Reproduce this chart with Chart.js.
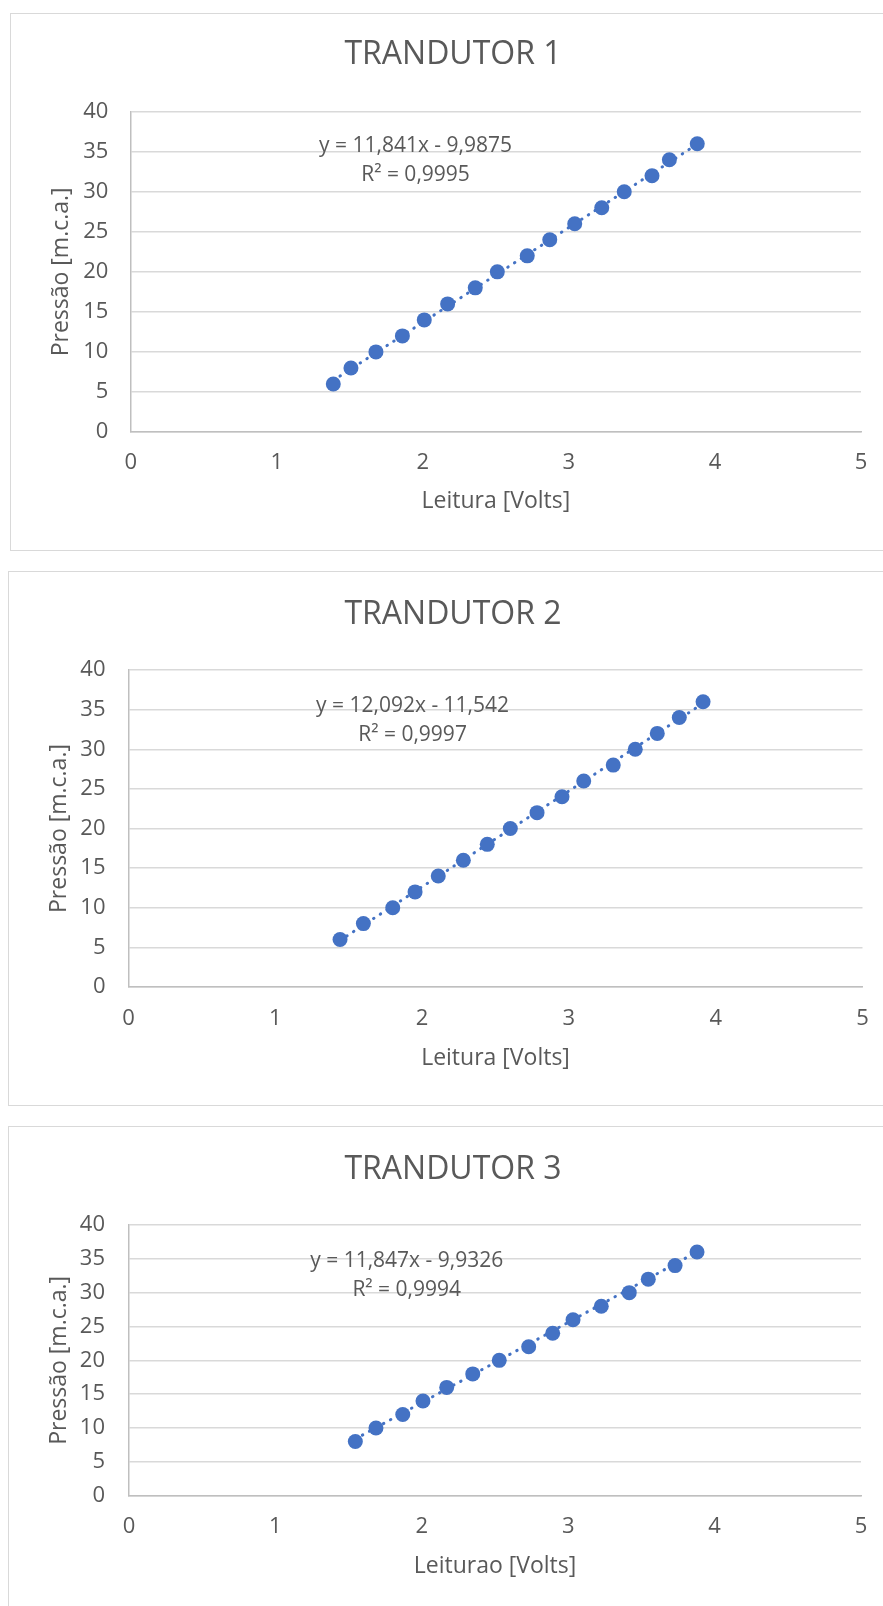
<!DOCTYPE html>
<html>
<head>
<meta charset="utf-8">
<script src="https://cdn.jsdelivr.net/npm/chart.js@4.4.1/dist/chart.umd.min.js"></script>
<style>
    html, body {
        margin: 0;
        padding: 0;
        background: #ffffff;
        width: 883px;
        height: 1606px;
        overflow: hidden;
        position: relative;
    }
    .chart-box {
        position: absolute;
        box-sizing: border-box;
        width: 900px;
        border: 1px solid #d9d9d9;
        background: #ffffff;
    }
    .chart-box canvas {
        display: block;
    }
</style>
</head>
<body>
<div class="chart-box" id="box1"><canvas id="chart1"></canvas></div>
<div class="chart-box" id="box2"><canvas id="chart2"></canvas></div>
<div class="chart-box" id="box3"><canvas id="chart3"></canvas></div>

<script>
// --- data ---
const titles = ['TRANDUTOR 1', 'TRANDUTOR 2', 'TRANDUTOR 3'];
const xTitles = ['Leitura [Volts]', 'Leitura [Volts]', 'Leiturao [Volts]'];
const yTitle = 'Pressão [m.c.a.]';

const volts1 = [1.387, 1.508, 1.679, 1.860, 2.010, 2.170, 2.359, 2.510, 2.715, 2.869, 3.040, 3.225, 3.379, 3.569, 3.688, 3.879];
const press1 = [6, 8, 10, 12, 14, 16, 18, 20, 22, 24, 26, 28, 30, 32, 34, 36];

const volts2 = [1.441, 1.600, 1.800, 1.952, 2.110, 2.281, 2.444, 2.601, 2.783, 2.953, 3.101, 3.302, 3.452, 3.602, 3.752, 3.914];
const press2 = [6, 8, 10, 12, 14, 16, 18, 20, 22, 24, 26, 28, 30, 32, 34, 36];

const volts3 = [1.546, 1.687, 1.870, 2.008, 2.170, 2.348, 2.529, 2.730, 2.894, 3.033, 3.226, 3.417, 3.547, 3.730, 3.880];
const press3 = [8, 10, 12, 14, 16, 18, 20, 22, 24, 26, 28, 30, 32, 34, 36];

// trendline coefficients as printed on the chart
const slopes = [11.841, 12.092, 11.847];
const intercepts = [-9.9875, -11.542, -9.9326];
const rSquared = [0.9995, 0.9997, 0.9994];

const xTicks = [0, 1, 2, 3, 4, 5];
const yTicks = [0, 5, 10, 15, 20, 25, 30, 35, 40];

// --- page geometry (page pixels) ---
const layouts = [
    {box: {left: 10, top: 13, height: 538}, plot: {top: 111.7, bottom: 432, left: 130.7, right: 861},
        titleX: 453, titleY: 55, xTitleY: 501.7, yTitleX: 61, yLabelRight: 108.3, xLabelY: 463, eq: {x: 1.95, y: 35.7}},
    {box: {left: 8, top: 571, height: 535}, plot: {top: 670, bottom: 987, left: 128.5, right: 862.5},
        titleX: 453, titleY: 615, xTitleY: 1058, yTitleX: 59, yLabelRight: 105.5, xLabelY: 1018.3, eq: {x: 1.935, y: 35.5}},
    {box: {left: 8, top: 1126, height: 500}, plot: {top: 1225, bottom: 1495.7, left: 129, right: 861},
        titleX: 453, titleY: 1169.5, xTitleY: 1566, yTitleX: 59, yLabelRight: 105, xLabelY: 1527, eq: {x: 1.897, y: 34.72}}
];

const TEXT = '#595959';
const BLUE = '#4472C4';
const FONT = "'Open Sans', 'Noto Sans', sans-serif";
const CANVAS_W = 883;
const TITLE_SIZE = 32, AXIS_TITLE_SIZE = 23, TICK_SIZE = 22, EQ_SIZE = 21, LH = 1.2;

function fmt(n) {
    return String(Math.abs(n)).replace('.', ',');
}

// draws "y = ax + b" and "R² = ..." like the Excel trendline label
const equationLabel = {
    id: 'equationLabel',
    afterDatasetsDraw(chart, args, opts) {
        const {ctx, scales} = chart;
        const cx = scales.x.getPixelForValue(opts.x);
        const cy = scales.y.getPixelForValue(opts.y);
        ctx.save();
        ctx.font = EQ_SIZE + 'px ' + FONT;
        ctx.fillStyle = TEXT;
        ctx.textAlign = 'center';
        ctx.textBaseline = 'middle';
        opts.lines.forEach((line, i) => ctx.fillText(line, cx, cy + i * opts.gap));
        ctx.restore();
    }
};

function buildChart(index, volts, press) {
    const lay = layouts[index];
    const box = document.querySelector('#box' + (index + 1));
    box.style.left = lay.box.left + 'px';
    box.style.top = lay.box.top + 'px';
    box.style.height = lay.box.height + 'px';

    const ox = lay.box.left + 1, oy = lay.box.top + 1;
    const canvasH = lay.box.height - 2;
    const canvas = document.querySelector('#chart' + (index + 1));
    canvas.width = CANVAS_W;
    canvas.height = canvasH;
    canvas.style.width = CANVAS_W + 'px';
    canvas.style.height = canvasH + 'px';

    const plotTop = lay.plot.top - oy;
    const plotBottom = lay.plot.bottom - oy;
    const plotLeft = lay.plot.left - ox;
    const plotRight = lay.plot.right - ox;

    // the title box spans padding.left .. chartArea.right, so pick padding.left to center it
    const padRight = CANVAS_W - plotRight;
    const padLeft = 2 * (lay.titleX - ox) - plotRight;

    const titleLH = TITLE_SIZE * LH;
    const titlePadTop = (lay.titleY - oy) - titleLH / 2;
    const titlePadBottom = plotTop - titlePadTop - titleLH;
    const axisLH = AXIS_TITLE_SIZE * LH;
    const xScaleHeight = canvasH - plotBottom;

    const slope = slopes[index], intercept = intercepts[index];
    const xMin = Math.min(...volts), xMax = Math.max(...volts);
    const trend = [
        {x: xMin, y: slope * xMin + intercept},
        {x: xMax, y: slope * xMax + intercept}
    ];
    const points = volts.map((v, i) => ({x: v, y: press[i]}));

    const eqLines = [
        'y = ' + fmt(slope) + 'x ' + (intercept < 0 ? '-' : '+') + ' ' + fmt(intercept),
        'R² = ' + fmt(rSquared[index])
    ];

    return new Chart(canvas, {
        type: 'scatter',
        data: {
            datasets: [
                {
                    label: 'Pontos',
                    data: points,
                    backgroundColor: BLUE,
                    borderWidth: 0,
                    pointRadius: 7.5,
                    order: 1
                },
                {
                    label: 'Tendência',
                    type: 'line',
                    data: trend,
                    borderColor: BLUE,
                    borderWidth: 3,
                    borderDash: [0.5, 7.5],
                    borderCapStyle: 'round',
                    pointRadius: 0,
                    fill: false,
                    order: 2
                }
            ]
        },
        options: {
            responsive: false,
            animation: false,
            devicePixelRatio: 1,
            layout: {
                padding: {top: 0, left: padLeft, bottom: 0, right: padRight}
            },
            plugins: {
                legend: {display: false},
                tooltip: {enabled: false},
                title: {
                    display: true,
                    text: titles[index],
                    color: TEXT,
                    font: {family: FONT, size: TITLE_SIZE, weight: 'normal', lineHeight: LH},
                    padding: {top: titlePadTop, bottom: titlePadBottom}
                },
                equationLabel: {x: lay.eq.x, y: lay.eq.y, gap: 29, lines: eqLines}
            },
            scales: {
                x: {
                    type: 'linear',
                    min: 0,
                    max: 5,
                    afterBuildTicks: (scale) => { scale.ticks = xTicks.map(v => ({value: v})); },
                    afterFit: (scale) => { scale.height = xScaleHeight; },
                    grid: {display: false, drawTicks: false},
                    border: {display: true, color: '#bfbfbf', width: 1.5},
                    ticks: {
                        color: TEXT,
                        font: {family: FONT, size: TICK_SIZE, lineHeight: LH},
                        padding: (lay.xLabelY - lay.plot.bottom) - TICK_SIZE * LH / 2,
                        maxRotation: 0
                    },
                    title: {
                        display: true,
                        text: xTitles[index],
                        color: TEXT,
                        font: {family: FONT, size: AXIS_TITLE_SIZE, lineHeight: LH},
                        padding: {top: 0, bottom: (canvasH - (lay.xTitleY - oy)) - axisLH / 2}
                    }
                },
                y: {
                    type: 'linear',
                    min: 0,
                    max: 40,
                    afterBuildTicks: (scale) => { scale.ticks = yTicks.map(v => ({value: v})); },
                    afterFit: (scale) => { scale.width = plotLeft - padLeft; },
                    grid: {color: '#d9d9d9', lineWidth: 1.5, drawTicks: false},
                    border: {display: true, color: '#bfbfbf', width: 1.5},
                    ticks: {
                        color: TEXT,
                        font: {family: FONT, size: TICK_SIZE, lineHeight: LH},
                        padding: lay.plot.left - lay.yLabelRight
                    },
                    title: {
                        display: true,
                        text: yTitle,
                        color: TEXT,
                        font: {family: FONT, size: AXIS_TITLE_SIZE, lineHeight: LH},
                        padding: {top: Math.max(0, (lay.yTitleX - ox) - padLeft - axisLH / 2), bottom: 0}
                    }
                }
            }
        },
        plugins: [equationLabel]
    });
}

document.addEventListener('DOMContentLoaded', () => {
    buildChart(0, volts1, press1);
    buildChart(1, volts2, press2);
    buildChart(2, volts3, press3);
});
</script>
</body>
</html>
